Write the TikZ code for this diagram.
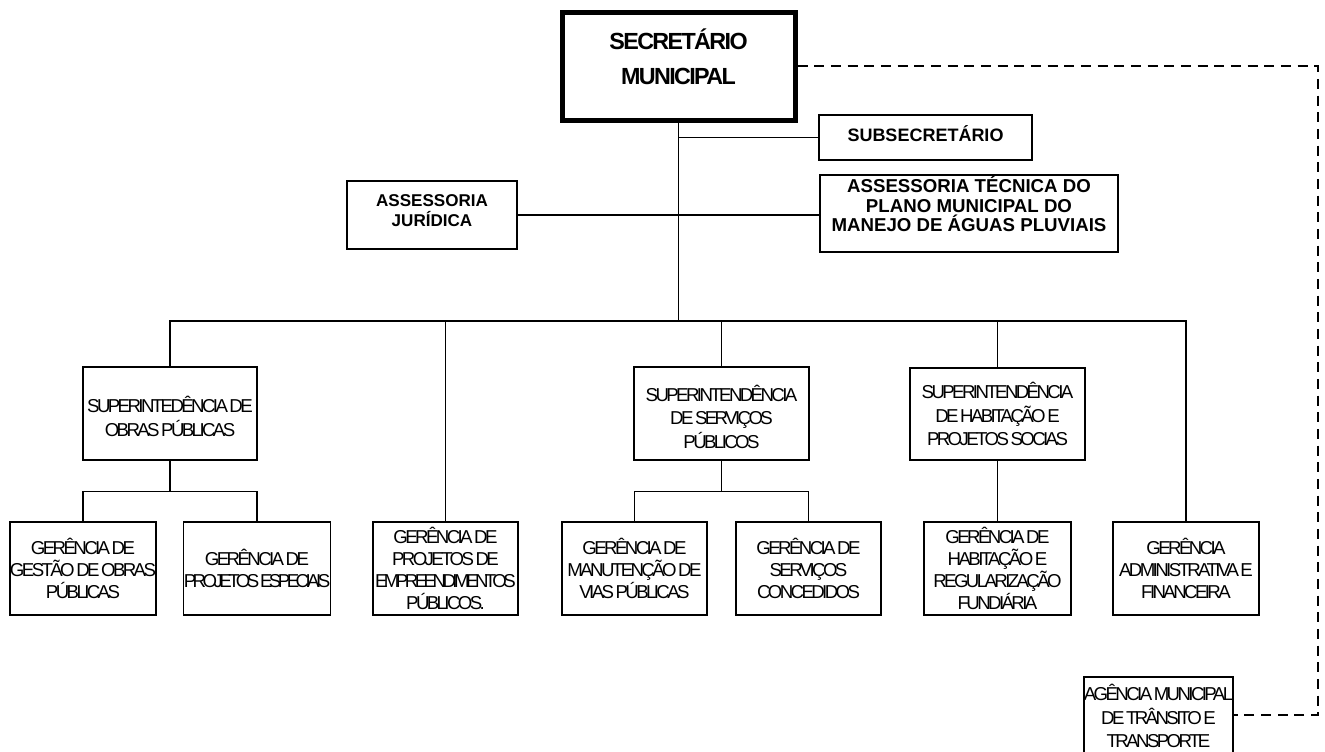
\documentclass[tikz,border=0pt]{standalone}
\usepackage{fontspec}
\setmainfont{Liberation Sans}
\newfontfamily\tightfont[LetterSpace=-14,WordSpace=0.6]{Liberation Sans}
\newfontfamily\squeezefont[LetterSpace=-19,WordSpace=0.5]{Liberation Sans}
\newfontfamily\headfont[LetterSpace=-7]{Liberation Sans}
\newlength\px
\setlength\px{0.75pt}
\begin{document}
\begin{tikzpicture}[x=0.75pt,y=-0.75pt,
    headbox/.style={draw,line width=3.75pt,inner sep=0pt,align=center,
        minimum width=233\px,minimum height=108\px,text depth=19\px,
        font=\headfont\bfseries\fontsize{17.5}{26}\selectfont},
    staffbox/.style={draw,line width=1.3pt,inner sep=0pt,align=center,
        font=\bfseries\fontsize{13.5}{14.5}\selectfont},
    unitbox/.style={draw,line width=1pt,inner sep=0pt,align=center,
        minimum width=146\px,minimum height=93\px,
        font=\tightfont\fontsize{14}{16.3}\selectfont},
    superbox/.style={unitbox,minimum width=175\px,
        font=\tightfont\fontsize{14}{17.4}\selectfont},
    link/.style={line width=0.9pt},
    dashlink/.style={line width=1pt,dash pattern=on 7.5pt off 5pt}]
\useasboundingbox (0,0) rectangle (1325,751);
\node[headbox] (sec) at (678.5,66) {SECRETÁRIO\\MUNICIPAL};
\node[staffbox,minimum width=213\px,minimum height=45\px,text depth=8\px] (sub) at (925.5,137.5) {SUBSECRETÁRIO};
\node[staffbox,minimum width=170\px,minimum height=68\px,text depth=8\px,font=\bfseries\fontsize{12.8}{15}\selectfont] (jur) at (432,215) {ASSESSORIA\\JURÍDICA};
\node[staffbox,minimum width=298\px,minimum height=77\px,text depth=19\px,font=\bfseries\fontsize{14}{14.6}\selectfont] (tec) at (969,213.5) {ASSESSORIA TÉCNICA DO\\PLANO MUNICIPAL DO\\MANEJO DE ÁGUAS PLUVIAIS};
\node[superbox,minimum width=174\px,text height=45\px,text depth=0pt] (supobr) at (170,413.5) {SUPERINTEDÊNCIA DE\\OBRAS PÚBLICAS};
\node[superbox,text height=69\px,text depth=0pt] (supserv) at (721.5,413.5) {SUPERINTENDÊNCIA\\DE SERVIÇOS\\PÚBLICOS};
\node[superbox,minimum height=92\px] (suphab) at (997.5,414) {SUPERINTENDÊNCIA\\DE HABITAÇÃO E\\PROJETOS SOCIAS};
\node[unitbox] (gest) at (83,568.5) {GERÊNCIA DE\\GESTÃO DE OBRAS\\PÚBLICAS};
\node[unitbox] (esp) at (257,568.5) {GERÊNCIA DE\\{\squeezefont PROJETOS ESPECIAIS}};
\node[unitbox,minimum width=145\px] (emp) at (445.5,568.5) {GERÊNCIA DE\\PROJETOS DE\\{\squeezefont EMPREENDIMENTOS}\\PÚBLICOS.};
\node[unitbox,minimum width=145\px] (man) at (634.5,568.5) {GERÊNCIA DE\\MANUTENÇÃO DE\\VIAS PÚBLICAS};
\node[unitbox,minimum width=145\px] (conc) at (808.5,568.5) {GERÊNCIA DE\\SERVIÇOS\\CONCEDIDOS};
\node[unitbox,minimum width=147\px] (hreg) at (997.5,568.5) {GERÊNCIA DE\\HABITAÇÃO E\\REGULARIZAÇÃO\\FUNDIÁRIA};
\node[unitbox] (adm) at (1186,568.5) {GERÊNCIA\\ADMINISTRATIVA E\\FINANCEIRA};
\node[unitbox,minimum width=149\px,minimum height=78\px,font=\tightfont\fontsize{14}{17.5}\selectfont] (agen) at (1158.5,716) {AGÊNCIA MUNICIPAL\\DE TRÂNSITO E\\TRANSPORTE};
\coordinate (bus) at (678,321);
\coordinate (dashcorner) at (1318,715);
\path (supobr.south) ++(0,31) coordinate (obrfork);
\path (supserv.south) ++(0,31) coordinate (servfork);
\draw[line width=1.4pt] (sec.south) -- (sec.south |- bus);
\draw[link] (sec.south |- sub.west) -- (sub.west);
\draw[link] (jur.east) -- (jur.east -| tec.west);
\draw[link] (supobr.north) |- (bus) -| (adm.north);
\draw[link] (emp.north) -- (emp.north |- bus);
\draw[link] (supserv.north) -- (supserv.north |- bus);
\draw[link] (suphab.north) -- (suphab.north |- bus);
\draw[link] (supobr.south) -- (obrfork);
\draw[link] (gest.north) |- (obrfork) -| (esp.north);
\draw[link] (supserv.south) -- (servfork);
\draw[link] (man.north) |- (servfork) -| (conc.north);
\draw[link] (suphab.south) -- (hreg.north);
\draw[dashlink] (sec.east) -| (dashcorner) -- (dashcorner -| agen.east);
\end{tikzpicture}
\end{document}
